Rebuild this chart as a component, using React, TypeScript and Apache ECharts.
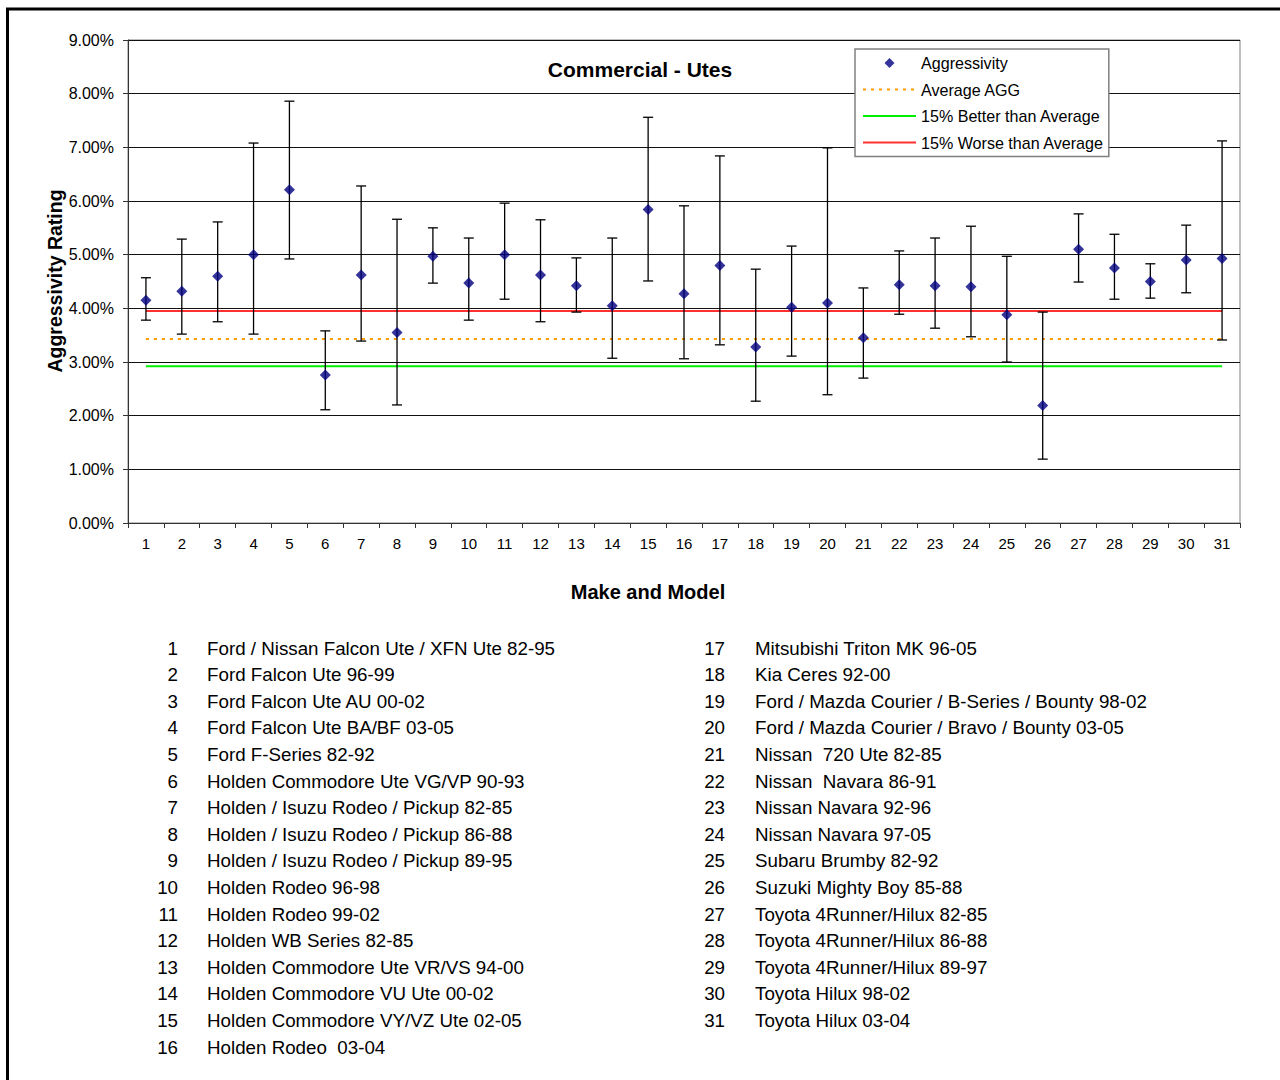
import React, { useEffect, useRef } from "react";
import * as echarts from "echarts";

const categories = ["1","2","3","4","5","6","7","8","9","10","11","12","13","14","15","16","17","18","19","20","21","22","23","24","25","26","27","28","29","30","31"];
const aggressivity = [4.15,4.32,4.60,5.00,6.21,2.76,4.62,3.55,4.97,4.47,5.00,4.62,4.42,4.05,5.84,4.27,4.80,3.28,4.02,4.10,3.45,4.44,4.42,4.40,3.88,2.19,5.10,4.75,4.50,4.90,4.93];
const upperBound = [4.57,5.29,5.61,7.08,7.86,3.58,6.28,5.66,5.50,5.31,5.96,5.65,4.94,5.31,7.56,5.91,6.84,4.73,5.16,6.99,4.38,5.07,5.31,5.53,4.97,3.93,5.76,5.38,4.83,5.55,7.12];
const lowerBound = [3.78,3.52,3.75,3.52,4.92,2.11,3.39,2.20,4.47,3.78,4.17,3.75,3.93,3.07,4.51,3.06,3.32,2.27,3.11,2.39,2.70,3.89,3.63,3.47,3.00,1.19,4.49,4.17,4.19,4.29,3.41];
const averageAgg = 3.43;
const betterThanAverage = 2.92;
const worseThanAverage = 3.95;
const yTicks = [0,1,2,3,4,5,6,7,8,9];

const makeNames = [
  "Ford / Nissan Falcon Ute / XFN Ute 82-95",
  "Ford Falcon Ute 96-99",
  "Ford Falcon Ute AU 00-02",
  "Ford Falcon Ute BA/BF 03-05",
  "Ford F-Series 82-92",
  "Holden Commodore Ute VG/VP 90-93",
  "Holden / Isuzu Rodeo / Pickup 82-85",
  "Holden / Isuzu Rodeo / Pickup 86-88",
  "Holden / Isuzu Rodeo / Pickup 89-95",
  "Holden Rodeo 96-98",
  "Holden Rodeo 99-02",
  "Holden WB Series 82-85",
  "Holden Commodore Ute VR/VS 94-00",
  "Holden Commodore VU Ute 00-02",
  "Holden Commodore VY/VZ Ute 02-05",
  "Holden Rodeo  03-04",
  "Mitsubishi Triton MK 96-05",
  "Kia Ceres 92-00",
  "Ford / Mazda Courier / B-Series / Bounty 98-02",
  "Ford / Mazda Courier / Bravo / Bounty 03-05",
  "Nissan  720 Ute 82-85",
  "Nissan  Navara 86-91",
  "Nissan Navara 92-96",
  "Nissan Navara 97-05",
  "Subaru Brumby 82-92",
  "Suzuki Mighty Boy 85-88",
  "Toyota 4Runner/Hilux 82-85",
  "Toyota 4Runner/Hilux 86-88",
  "Toyota 4Runner/Hilux 89-97",
  "Toyota Hilux 98-02",
  "Toyota Hilux 03-04",
];

const FONT = '"Liberation Sans", Arial, sans-serif';
const DIAMOND_ICON = "path://M0 0 M14 14 M7 2 L12 7 L7 12 L2 7 Z";

export default function App() {
  const ref = useRef<HTMLDivElement>(null);
  useEffect(() => {
    if (!ref.current) return;
    const chart = echarts.init(ref.current, undefined, { renderer: "svg" });

    const errData = categories.map((c, i) => [i, lowerBound[i], upperBound[i]]);
    const first = categories[0];
    const last = categories[categories.length - 1];

    const listGraphics: any[] = [];
    makeNames.forEach((name, i) => {
      const col = i < 16 ? 0 : 1;
      const row = col === 0 ? i : i - 16;
      const y = 648 + row * 26.6;
      const numX = col === 0 ? 178 : 725;
      const nameX = col === 0 ? 207 : 755;
      listGraphics.push({
        type: "text",
        style: { text: categories[i], x: numX, y, fontSize: 18.75, fontFamily: FONT, fill: "#000", align: "right", verticalAlign: "middle" },
      });
      listGraphics.push({
        type: "text",
        style: { text: name, x: nameX, y, fontSize: 18.75, fontFamily: FONT, fill: "#000", align: "left", verticalAlign: "middle" },
      });
    });

    const option: any = {
      animation: false,
      backgroundColor: "#ffffff",
      textStyle: { fontFamily: FONT },
      title: {
        text: "Commercial - Utes",
        left: "center",
        top: 54,
        textStyle: { fontSize: 21, fontWeight: "bold", color: "#000", fontFamily: FONT },
      },
      legend: {
        orient: "vertical",
        left: 855,
        top: 49,
        padding: [6, 5, 6, 7],
        itemGap: 10.5,
        itemWidth: 53,
        itemHeight: 14,
        backgroundColor: "#ffffff",
        borderColor: "#808080",
        borderWidth: 1.5,
        textStyle: { fontSize: 16.1, color: "#000", fontFamily: FONT },
        data: [
          { name: "Aggressivity", icon: DIAMOND_ICON },
          { name: "Average AGG", itemStyle: { opacity: 0 } },
          { name: "15% Better than Average", itemStyle: { opacity: 0 } },
          { name: "15% Worse than Average", itemStyle: { opacity: 0 } },
        ],
      },
      grid: { left: 128, right: 40, top: 40, bottom: 557, show: true, borderColor: "#808080", borderWidth: 1 },
      xAxis: {
        type: "category",
        data: categories,
        boundaryGap: true,
        axisLine: { lineStyle: { color: "#333", width: 1 } },
        axisTick: { show: true, length: 5, alignWithLabel: false, lineStyle: { color: "#333" } },
        axisLabel: { fontSize: 15, color: "#000", margin: 13, fontFamily: FONT },
        splitLine: { show: false },
      },
      yAxis: {
        type: "value",
        min: yTicks[0],
        max: yTicks[yTicks.length - 1],
        interval: 1,
        axisLine: { show: true, lineStyle: { color: "#333", width: 1 } },
        axisTick: { show: true, length: 5, lineStyle: { color: "#333" } },
        axisLabel: { fontSize: 16, color: "#000", margin: 14, fontFamily: FONT, formatter: (v: number) => v.toFixed(2) + "%" },
        splitLine: { show: true, lineStyle: { color: "#111", width: 1 } },
      },
      series: [
        {
          name: "Average AGG",
          type: "line",
          data: [[first, averageAgg], [last, averageAgg]],
          symbol: "none",
          lineStyle: { color: "#ff9900", width: 2, type: [3, 5] },
          itemStyle: { color: "#ff9900" },
          z: 2,
        },
        {
          name: "15% Better than Average",
          type: "line",
          data: [[first, betterThanAverage], [last, betterThanAverage]],
          symbol: "none",
          lineStyle: { color: "#00ee00", width: 2 },
          itemStyle: { color: "#00ee00" },
          z: 2,
        },
        {
          name: "15% Worse than Average",
          type: "line",
          data: [[first, worseThanAverage], [last, worseThanAverage]],
          symbol: "none",
          lineStyle: { color: "#ff3030", width: 2 },
          itemStyle: { color: "#ff3030" },
          z: 2,
        },
        {
          name: "errorbars",
          type: "custom",
          data: errData,
          encode: { x: 0, y: [1, 2] },
          z: 3,
          renderItem: (params: any, api: any) => {
            const lo = api.coord([api.value(0), api.value(1)]);
            const hi = api.coord([api.value(0), api.value(2)]);
            const half = 5;
            const st = { stroke: "#000", lineWidth: 1.3 };
            return {
              type: "group",
              children: [
                { type: "line", shape: { x1: lo[0], y1: hi[1], x2: lo[0], y2: lo[1] }, style: st },
                { type: "line", shape: { x1: lo[0] - half, y1: hi[1], x2: lo[0] + half, y2: hi[1] }, style: st },
                { type: "line", shape: { x1: lo[0] - half, y1: lo[1], x2: lo[0] + half, y2: lo[1] }, style: st },
              ],
            };
          },
        },
        {
          name: "Aggressivity",
          type: "scatter",
          data: aggressivity,
          symbol: "diamond",
          symbolSize: 11,
          itemStyle: { color: "#000080" },
          z: 4,
        },
      ],
      graphic: [
        {
          type: "rect",
          shape: { x: 7.5, y: 9, width: 1320, height: 1120 },
          style: { fill: "none", stroke: "#000", lineWidth: 3 },
          silent: true,
          z: 100,
        },
        {
          type: "text",
          x: 55,
          y: 281,
          rotation: Math.PI / 2,
          style: { text: "Aggressivity Rating", x: 0, y: 0, fontSize: 19.5, fontWeight: "bold", fontFamily: FONT, fill: "#000", align: "center", verticalAlign: "middle" },
        },
        {
          type: "text",
          style: { text: "Make and Model", x: 648, y: 592, fontSize: 20, fontWeight: "bold", fontFamily: FONT, fill: "#000", align: "center", verticalAlign: "middle" },
        },
        ...listGraphics,
      ],
    };
    chart.setOption(option);
    return () => chart.dispose();
  }, []);
  return <div ref={ref} style={{ position: "absolute", left: 0, top: 0, width: 1280, height: 1080 }} />;
}
